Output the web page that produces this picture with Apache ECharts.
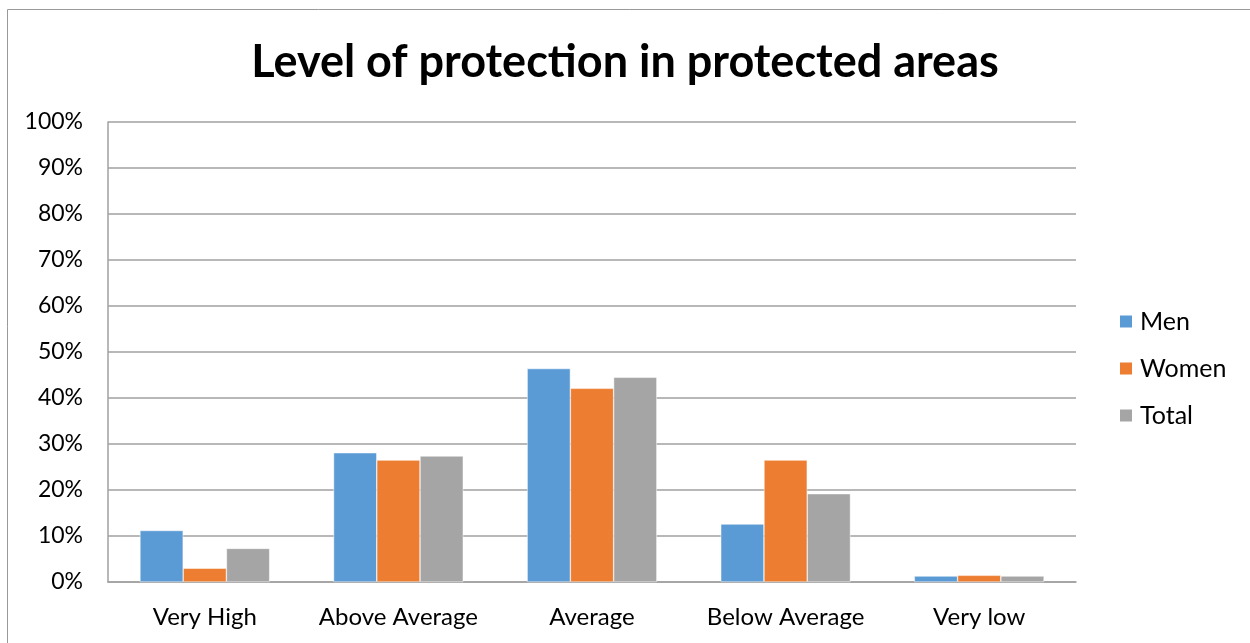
<!DOCTYPE html>
<html>
<head>
<meta charset="utf-8">
<script src="https://cdn.jsdelivr.net/npm/echarts@6/dist/echarts.min.js"></script>
<style>
  html, body { margin: 0; padding: 0; background: #fff; }
  #main { width: 1250px; height: 643px; }
</style>
</head>
<body>
<div id="main"></div>
<script>
var categories = ['Very High', 'Above Average', 'Average', 'Below Average', 'Very low'];
var men = [11.2, 28.1, 46.4, 12.6, 1.3];
var women = [3.0, 26.5, 42.1, 26.5, 1.45];
var total = [7.3, 27.4, 44.5, 19.2, 1.3];
var yTicks = [0, 10, 20, 30, 40, 50, 60, 70, 80, 90, 100];

var font = 'Lato';
var chart = echarts.init(document.getElementById('main'));

function bar(name, data, color) {
  return {
    name: name,
    type: 'bar',
    data: data,
    barGap: '0%',
    barCategoryGap: '33%',
    itemStyle: { color: color, borderColor: '#fff', borderWidth: 0.5 }
  };
}

chart.setOption({
  animation: false,
  title: {
    text: 'Level of protection in protected areas',
    left: 'center',
    top: 35,
    textStyle: { fontFamily: font, fontWeight: 'bold', fontSize: 45, color: '#000' }
  },
  graphic: [{
    type: 'rect',
    shape: { x: 7.5, y: 9.5, width: 1250, height: 640 },
    style: { fill: null, stroke: '#999', lineWidth: 1 }
  }],
  legend: {
    orient: 'vertical',
    left: 1113,
    top: 304,
    itemWidth: 14,
    itemHeight: 14,
    itemGap: 22,
    icon: 'rect',
    textStyle: { fontFamily: font, fontSize: 25, color: '#000', padding: [0, 0, 0, 2] }
  },
  grid: { left: 108, right: 174, top: 122, bottom: 61 },
  xAxis: {
    type: 'category',
    data: categories,
    axisTick: { show: false },
    axisLine: { lineStyle: { color: '#a0a0a0', width: 1.5 } },
    axisLabel: { fontFamily: font, fontSize: 24, color: '#000', margin: 23, interval: 0, hideOverlap: false }
  },
  yAxis: {
    type: 'value',
    min: yTicks[0],
    max: yTicks[yTicks.length - 1],
    interval: 10,
    axisLine: { show: true, lineStyle: { color: '#a0a0a0', width: 1.5 } },
    axisTick: { show: false },
    splitLine: { lineStyle: { color: '#a0a0a0', width: 1.5 } },
    axisLabel: { fontFamily: font, fontSize: 23, color: '#000', margin: 25, formatter: '{value}%' }
  },
  series: [
    bar('Men', men, '#5b9bd5'),
    bar('Women', women, '#ed7d31'),
    bar('Total', total, '#a5a5a5')
  ]
});
</script>
</body>
</html>
